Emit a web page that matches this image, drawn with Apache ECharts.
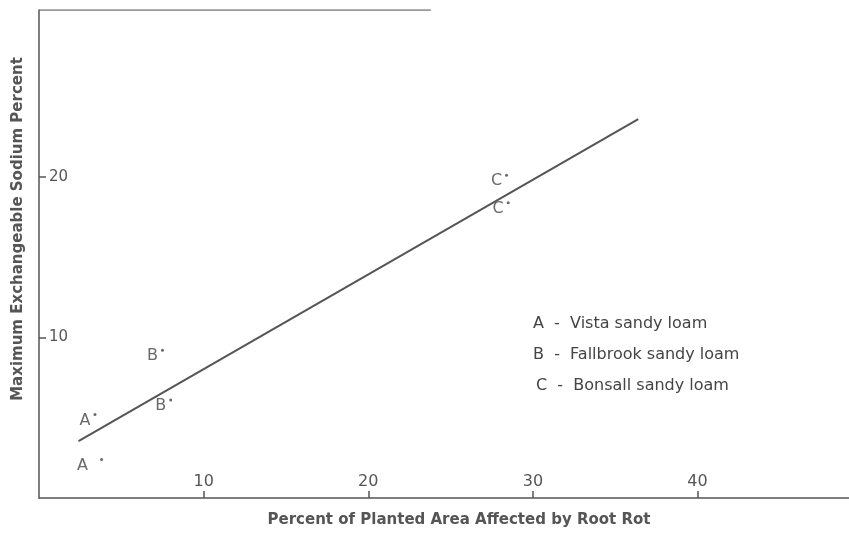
<!DOCTYPE html>
<html>
<head>
<meta charset="utf-8">
<script src="https://cdn.jsdelivr.net/npm/echarts@6/dist/echarts.min.js"></script>
<style>html,body{margin:0;padding:0;background:#fff}#c{width:849px;height:533px}</style>
</head>
<body>
<div id="c"></div>
<script>
// Data
const soilLetters = ['A', 'B', 'C'];
const soilNames = ['Vista sandy loam', 'Fallbrook sandy loam', 'Bonsall sandy loam'];
const pointsA = [[3.8, 2.4], [3.4, 5.2]];
const pointsB = [[7.5, 9.2], [8.0, 6.1]];
const pointsC = [[28.4, 20.1], [28.5, 18.4]];
const fitLine = [[2.4, 3.55], [36.4, 23.6]];
const topFrame = [[0, 30.4], [23.8, 30.4]];
const xTicks = [10, 20, 30, 40];
const yTicks = [10, 20];
const xTitle = 'Percent of Planted Area Affected by Root Rot';
const yTitle = 'Maximum Exchangeable Sodium Percent';

const ink = '#555';
const font = 'DejaVu Sans';

function scatterSeries(letter, pts) {
  return {
    type: 'scatter',
    name: letter,
    data: pts.map((p, i) => {
      const item = { value: p };
      if (letter === 'A' && i === 0) item.label = { distance: 12 };
      return item;
    }),
    symbol: 'circle',
    symbolSize: 3,
    itemStyle: { color: '#444' },
    label: {
      show: true,
      formatter: letter,
      position: 'left',
      distance: 3,
      offset: [0, 6],
      color: '#444',
      fontFamily: font,
      fontSize: 16
    },
    emphasis: { disabled: true },
    z: 5
  };
}

const chart = echarts.init(document.getElementById('c'), null, { renderer: 'canvas' });
chart.setOption({
  animation: false,
  backgroundColor: '#fff',
  grid: { left: 39, right: 0, top: 10, bottom: 27 },
  xAxis: {
    type: 'value', min: 0, max: 49.2, interval: 10,
    axisLine: { show: true, lineStyle: { color: ink, width: 1.5 } },
    axisTick: { show: true, inside: true, length: 7, customValues: xTicks, lineStyle: { color: ink, width: 1.5 } },
    axisLabel: { inside: true, margin: 8, customValues: xTicks, color: ink, fontFamily: font, fontSize: 16 },
    splitLine: { show: false },
    name: xTitle, nameLocation: 'middle', nameGap: 15,
    nameTextStyle: { color: ink, fontFamily: font, fontSize: 15, fontWeight: 'bold', letterSpacing: 0.6, padding: [0, 0, 0, 30] }
  },
  yAxis: {
    type: 'value', min: 0, max: 30.4, interval: 10,
    axisLine: { show: true, lineStyle: { color: ink, width: 1.5 } },
    axisTick: { show: true, inside: true, length: 7, customValues: yTicks, lineStyle: { color: ink, width: 1.5 } },
    axisLabel: { inside: true, margin: 10, customValues: yTicks, color: ink, fontFamily: font, fontSize: 15 },
    splitLine: { show: false },
    name: yTitle, nameLocation: 'middle', nameGap: 13, nameRotate: 90,
    nameTextStyle: { color: ink, fontFamily: font, fontSize: 15, fontWeight: 'bold', letterSpacing: 0.8, padding: [0, 0, 0, 50] }
  },
  series: [
    {
      type: 'line', data: fitLine, symbol: 'none',
      lineStyle: { color: ink, width: 2 }, z: 3, silent: true
    },
    {
      type: 'line', data: topFrame, symbol: 'none',
      lineStyle: { color: '#777', width: 1.5 }, z: 2, silent: true
    },
    scatterSeries('A', pointsA),
    scatterSeries('B', pointsB),
    scatterSeries('C', pointsC)
  ],
  graphic: soilLetters.map((l, i) => ({
    type: 'text',
    left: 533 + (i === 2 ? 3 : 0),
    top: 316 + i * 31,
    style: {
      text: l + '  -  ' + soilNames[i],
      fill: '#444',
      font: '16px "DejaVu Sans"',
      letterSpacing: 1.5
    }
  }))
});
</script>
</body>
</html>
